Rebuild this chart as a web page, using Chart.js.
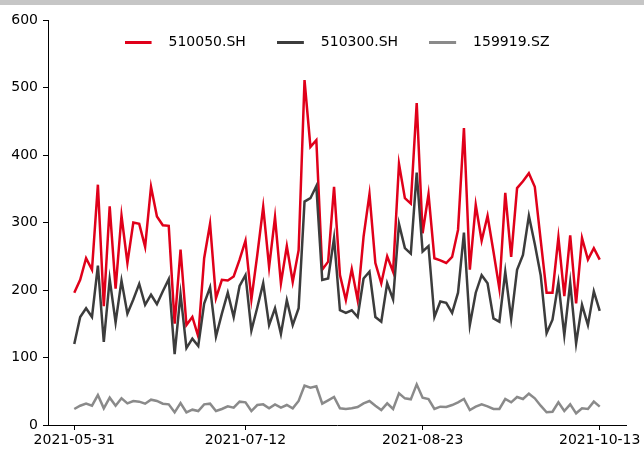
<!DOCTYPE html>
<html><head><meta charset="utf-8">
<script src="https://cdn.jsdelivr.net/npm/chart.js@4/dist/chart.umd.min.js"></script>
<style>
html,body{margin:0;padding:0;background:#fff;}
#wrap{position:relative;width:644px;height:450px;overflow:hidden;}
#bar{position:absolute;left:0;top:0;width:644px;height:5px;background:#c6c6c6;}
canvas{position:absolute;left:0;top:0;}
</style></head><body>
<div id="wrap"><canvas id="c" width="644" height="450"></canvas><div id="bar"></div></div>
<script>
const dates = [
 '2021-05-31','2021-06-01','2021-06-02','2021-06-03','2021-06-04',
 '2021-06-07','2021-06-08','2021-06-09','2021-06-10','2021-06-11',
 '2021-06-15','2021-06-16','2021-06-17','2021-06-18',
 '2021-06-21','2021-06-22','2021-06-23','2021-06-24','2021-06-25',
 '2021-06-28','2021-06-29','2021-06-30','2021-07-01','2021-07-02',
 '2021-07-05','2021-07-06','2021-07-07','2021-07-08','2021-07-09',
 '2021-07-12','2021-07-13','2021-07-14','2021-07-15','2021-07-16',
 '2021-07-19','2021-07-20','2021-07-21','2021-07-22','2021-07-23',
 '2021-07-26','2021-07-27','2021-07-28','2021-07-29','2021-07-30',
 '2021-08-02','2021-08-03','2021-08-04','2021-08-05','2021-08-06',
 '2021-08-09','2021-08-10','2021-08-11','2021-08-12','2021-08-13',
 '2021-08-16','2021-08-17','2021-08-18','2021-08-19','2021-08-20',
 '2021-08-23','2021-08-24','2021-08-25','2021-08-26','2021-08-27',
 '2021-08-30','2021-08-31','2021-09-01','2021-09-02','2021-09-03',
 '2021-09-06','2021-09-07','2021-09-08','2021-09-09','2021-09-10',
 '2021-09-13','2021-09-14','2021-09-15','2021-09-16','2021-09-17',
 '2021-09-22','2021-09-23','2021-09-24',
 '2021-09-27','2021-09-28','2021-09-29','2021-09-30',
 '2021-10-08','2021-10-11','2021-10-12','2021-10-13'
];
const s510050 = [196,215,247,230,356,176,324,202,310,240,300,298,264,353,309,296,295,150,260,148,
 160,131,247,298,188,215,214,220,245,273,186,252,323,234,308,210,265,212,259,511,
 412,422,230,242,353,222,185,231,185,279,342,240,210,250,227,387,336,328,477,284,
 342,247,244,240,249,289,440,230,326,273,310,257,202,344,249,351,361,373,353,274,
 196,196,278,191,281,180,277,245,262,245];
const s510300 = [120,160,173,160,236,123,216,152,214,165,186,209,178,193,179,198,216,105,194,114,
 128,117,180,204,131,165,196,160,206,222,140,174,210,148,173,135,185,148,173,331,
 336,354,215,217,277,170,166,170,160,217,227,160,153,210,186,298,262,254,374,257,
 265,160,183,181,166,196,285,148,196,222,210,158,153,227,157,230,252,310,268,222,
 136,156,211,133,211,121,178,148,198,169];
const s159919 = [23.7,28.6,31.6,28.6,44.4,24.7,40.5,28.6,39.5,32.1,35.6,34.6,31.6,37.5,35.6,31.6,30.6,18.8,32.6,18.8,
 22.7,20.7,30.6,31.6,20.7,23.7,27.7,25.7,34.6,33.6,20.7,29.6,30.6,24.7,30.6,25.7,29.6,24.7,35.6,58.3,
 55.3,57.3,31.6,36.5,41.5,24.7,23.7,24.7,26.7,32.1,35.6,28.6,22.2,32.1,23.7,46.9,39.5,38,60.2,40.5,
 38.5,23.7,27.2,26.7,29.6,33.6,38.5,22.2,27.2,30.6,27.7,23.7,23.7,38.5,33.6,41.5,38.5,46.4,39.5,28.6,
 18.8,19.7,33.6,20.7,30.6,17.3,24.7,23.7,34.6,27.2];
const seriesNames = ['510050.SH','510300.SH','159919.SZ'];
const tickIdx = [0,29,59,89];
const yTicks = [0,100,200,300,400,500,600];

const colors = ['#e0001a','#3c3c3c','#8a8a8a'];
const FONT = "'DejaVu Sans', sans-serif";

function swatch(color){
  const c = document.createElement('canvas');
  c.width = 37; c.height = 3;
  const g = c.getContext('2d');
  g.fillStyle = color; g.fillRect(0,0,27,3);
  return c;
}
function toXY(arr){ return arr.map((v,i)=>({x:i,y:v})); }

const allSeries = [s510050, s510300, s159919];
const datasets = allSeries.map((s,k)=>({
  label: seriesNames[k],
  data: toXY(s),
  borderColor: colors[k],
  backgroundColor: colors[k],
  borderWidth: 2.5,
  pointRadius: 0,
  pointHoverRadius: 0,
  pointStyle: swatch(colors[k]),
  tension: 0,
  fill: false,
  order: 3 - k
}));

const legendShift = {
  id: 'legendShift',
  afterLayout(chart){
    const l = chart.legend; if (!l) return;
    const h = 60;
    l.top = 42 - 7 - 31;
    l.bottom = l.top + h;
    l.height = h;
  }
};

new Chart(document.getElementById('c'), {
  type: 'line',
  data: { datasets },
  plugins: [legendShift],
  options: {
    responsive: false,
    animation: false,
    devicePixelRatio: 1,
    layout: { padding: { left: 0, right: 18, top: 19, bottom: 0 } },
    plugins: {
      tooltip: { enabled: false },
      legend: {
        position: 'top',
        fullSize: false,
        maxHeight: 1,
        labels: {
          usePointStyle: true,
          pointStyleWidth: 37,
          padding: 31,
          color: '#000',
          font: { family: FONT, size: 14 },
          sort: (a,b)=>a.datasetIndex-b.datasetIndex
        }
      }
    },
    scales: {
      x: {
        type: 'linear',
        min: -4.45, max: 93.45,
        afterBuildTicks: s => { s.ticks = tickIdx.map(v=>({value:v})); },
        afterFit: s => { s.height = 25; },
        ticks: {
          autoSkip: false, maxRotation: 0, padding: 2, color: '#000',
          font: { family: FONT, size: 14 },
          callback: v => dates[v]
        },
        grid: { drawOnChartArea: false, drawTicks: true, tickLength: 5, color: '#000' },
        border: { display: true, color: '#000', width: 1 }
      },
      y: {
        min: 0, max: 600,
        afterBuildTicks: s => { s.ticks = yTicks.map(v=>({value:v})); },
        afterFit: s => { s.width = 48; },
        ticks: { padding: 5, color: '#000', font: { family: FONT, size: 14 } },
        grid: { drawOnChartArea: false, drawTicks: true, tickLength: 5, color: '#000' },
        border: { display: true, color: '#000', width: 1 }
      }
    }
  }
});
</script>
</body></html>
